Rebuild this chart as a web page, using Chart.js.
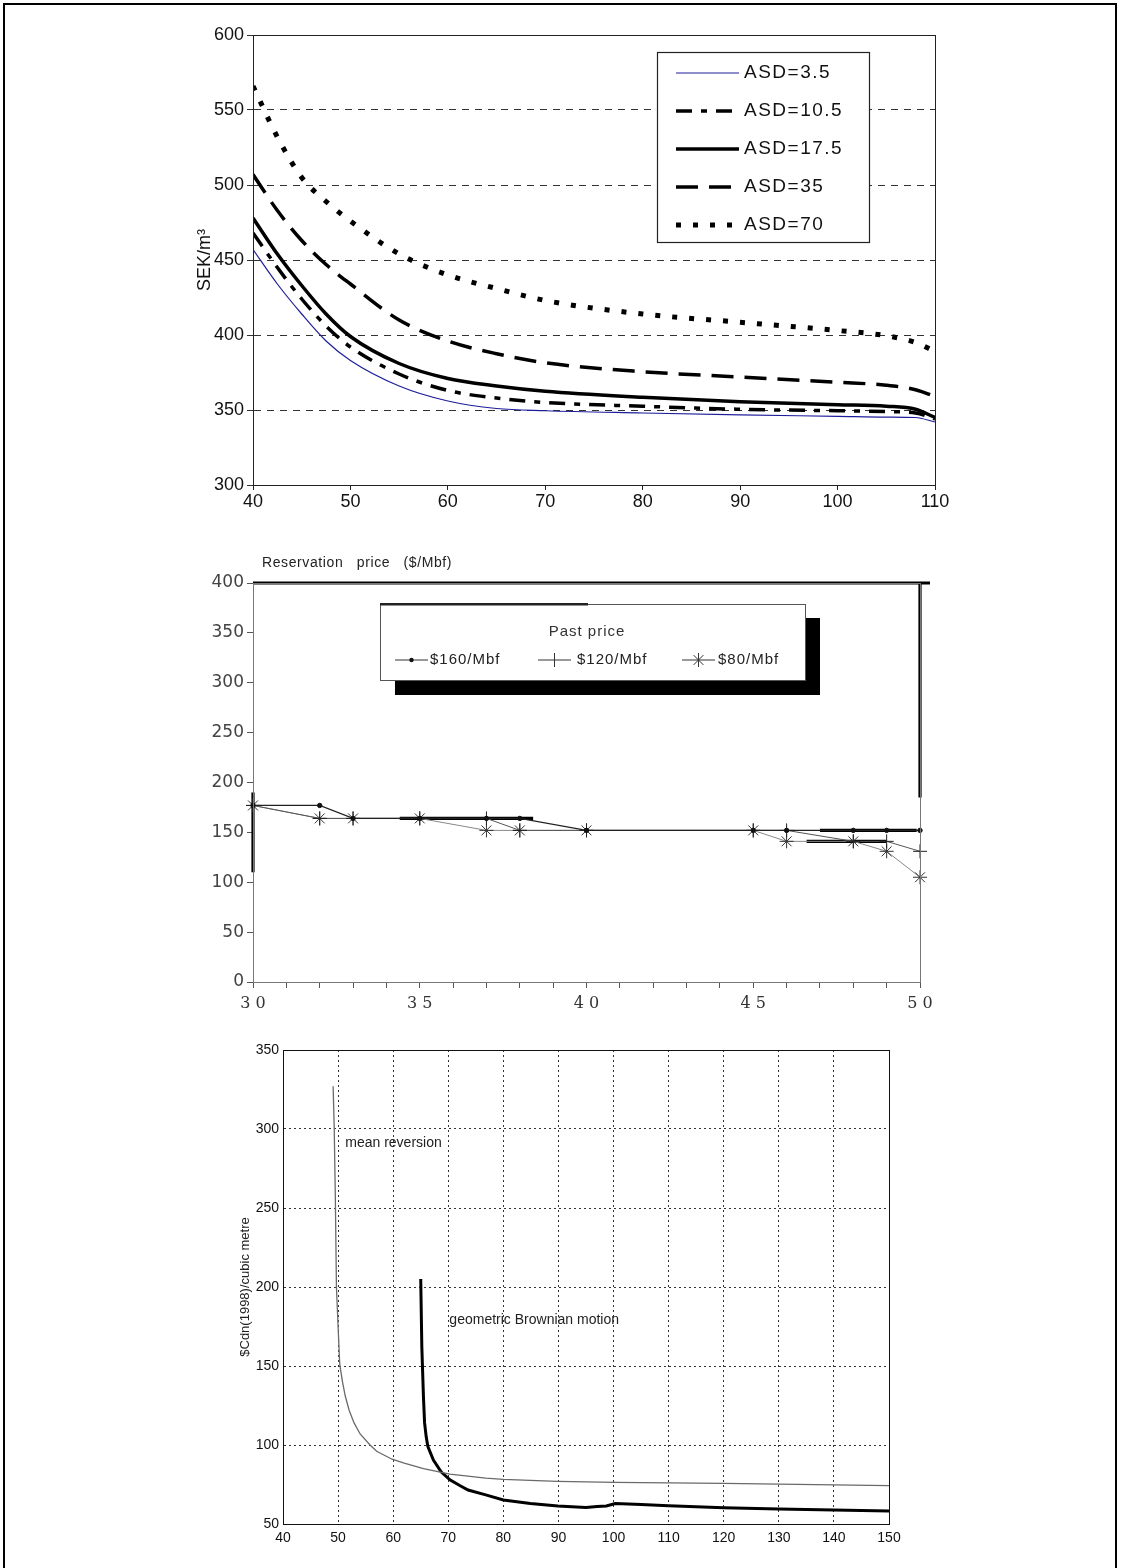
<!DOCTYPE html>
<html>
<head>
<meta charset="utf-8">
<script src="https://cdn.jsdelivr.net/npm/chart.js@4.4.0/dist/chart.umd.min.js"></script>
<style>
    html, body { margin: 0; background: #fff; }
    #page { position: relative; width: 1124px; height: 1568px; overflow: hidden; background: #fff; }
    #frame { position: absolute; left: 3px; top: 3px; width: 1114px; height: 1600px; border: 2px solid #000; box-sizing: border-box; }
    canvas { position: absolute; }
</style>
</head>
<body>
<div id="page">
    <div id="frame"></div>
    <canvas id="topChart" width="790" height="500" style="left:190px;top:20px"></canvas>
    <canvas id="midChart" width="750" height="480" style="left:200px;top:540px"></canvas>
    <canvas id="lowChart" width="690" height="530" style="left:236px;top:1035px"></canvas>
</div>
<script>
// ---- panel 1: SEK/m3 against price, one curve per ASD ----
const asdLabels = ['ASD=3.5', 'ASD=10.5', 'ASD=17.5', 'ASD=35', 'ASD=70'];
const topX = [40, 42.5, 45, 47.5, 50, 55, 60, 65, 70, 80, 90, 100, 105, 108, 110];
const asd3_5 = [457, 434, 414, 396, 383, 366, 356, 351, 349.5, 348, 346.7, 345.8, 345.3, 345, 342];
const asd10_5 = [468, 445, 424, 406, 392, 374, 363, 358, 355, 352.5, 350.5, 349.5, 349, 348, 344];
const asd17_5 = [478, 454, 433, 414, 399, 381, 371, 366, 362.5, 358.5, 355.5, 353.5, 352.5, 350.5, 345];
const asd35 = [507, 483, 463, 447, 434, 410, 396, 387.5, 381.5, 375.5, 372, 368.5, 366.5, 363.5, 359];
const asd70 = [566, 532, 505, 489, 476, 454, 440, 431, 423, 414, 408.5, 403, 399.5, 395, 389];
const topXTicks = [40, 50, 60, 70, 80, 90, 100, 110];
const topYTicks = [300, 350, 400, 450, 500, 550, 600];

// ---- panel 2: reservation price by past price ----
const pastLabels = ['$160/Mbf', '$120/Mbf', '$80/Mbf'];
const midX = [30, 32, 33, 35, 37, 38, 40, 45, 46, 48, 49, 50];
const past160 = [177, 177, 164, 164, 164, 164, 152, 152, 152, 152, 152, 152];
const past120 = [177, 164, 164, 164, 164, 152, 152, 152, 152, 141, 141, 131];
const past80 = [177, 164, 164, 164, 152, 152, 152, 152, 141, 141, 131, 105];
// heavy strokes in the scan: [x1, y1, x2, y2]
const midHeavy = [[30, 400, 50.3, 400], [30, 110, 30, 190], [50, 400, 50, 185],
                  [34.4, 164, 38.4, 164], [47, 152, 49.9, 152], [46.6, 141, 49, 141]];
const midXTicks = [30, 31, 32, 33, 34, 35, 36, 37, 38, 39, 40, 41, 42, 43, 44, 45, 46, 47, 48, 49, 50];
const midXLabels = [30, 35, 40, 45, 50];
const midYTicks = [0, 50, 100, 150, 200, 250, 300, 350, 400];

// ---- panel 3: $Cdn(1998)/cubic metre ----
const meanRevX = [49.1, 49.3, 49.5, 49.7, 50, 50.3, 50.8, 51.3, 52, 52.9, 54, 55.8, 57, 59.8, 62, 65.5, 70.3, 76.8, 80, 89.8, 100.3, 110, 120, 130, 140, 150];
const meanRevY = [327, 300, 257, 200, 175, 151, 140, 131, 122, 114, 107, 100, 96, 91, 88.5, 85, 81.5, 79, 78.3, 77, 76.4, 76, 75.7, 75.3, 74.8, 74.3];
const gbmX = [65, 65.2, 65.5, 65.7, 66, 66.3, 67.3, 68.7, 70.3, 72, 73.6, 76.8, 80, 84.9, 89.9, 95, 97, 98.7, 100.3, 105, 110, 120, 130, 140, 150];
const gbmY = [205, 162, 130, 114, 105, 99, 90.5, 83, 78, 74.5, 71.5, 68.4, 65.2, 63, 61.4, 60.5, 61, 61.4, 63, 62.3, 61.6, 60.3, 59.5, 58.8, 58.2];
const lowXTicks = [40, 50, 60, 70, 80, 90, 100, 110, 120, 130, 140, 150];
const lowYTicks = [50, 100, 150, 200, 250, 300, 350];
const lowNotes = [{ text: 'mean reversion', x: 51.3, y: 291 }, { text: 'geometric Brownian motion', x: 70.2, y: 179 }];

Chart.defaults.font.family = '"Liberation Sans", Arial, sans-serif';
Chart.defaults.color = '#111';
Chart.defaults.animation = false;

const pts = (xs, ys) => xs.map((x, i) => ({ x: x, y: ys[i] }));
const fixTicks = list => s => { s.ticks = list.map(v => ({ value: v })); };

// box around the plot area
const frame = {
    id: 'frame',
    afterDatasetsDraw(chart, args, opts) {
        const a = chart.chartArea, ctx = chart.ctx;
        ctx.save();
        ctx.strokeStyle = opts.color || '#000';
        ctx.lineWidth = 1;
        ctx.strokeRect(Math.round(a.left) + 0.5, Math.round(a.top) + 0.5, Math.round(a.right - a.left), Math.round(a.bottom - a.top));
        ctx.restore();
    }
};

// ---------- chart 1 ----------
const topStyles = [
    { color: '#1e1e9a', width: 1.2, dash: [] },
    { color: '#000', width: 3.5, dash: [16, 9, 6, 9] },
    { color: '#000', width: 3.5, dash: [] },
    { color: '#000', width: 3.5, dash: [22, 11] },
    { color: '#000', width: 5, dash: [5, 12] }
];
const topSeries = [asd3_5, asd10_5, asd17_5, asd35, asd70];

const topLegend = {
    id: 'topLegend',
    afterDraw(chart) {
        const ctx = chart.ctx;
        const bx = 467, by = 32, bw = 212, bh = 190;
        ctx.save();
        ctx.fillStyle = '#fff';
        ctx.fillRect(bx, by, bw, bh);
        ctx.strokeStyle = '#222';
        ctx.lineWidth = 1.2;
        ctx.strokeRect(bx + 0.5, by + 0.5, bw, bh);
        chart.data.datasets.forEach((ds, i) => {
            const y = by + 21 + i * 38;
            ctx.beginPath();
            ctx.setLineDash(ds.borderDash || []);
            ctx.lineWidth = ds.borderWidth;
            ctx.strokeStyle = ds.borderColor;
            ctx.moveTo(bx + 19, y);
            ctx.lineTo(bx + 82, y);
            ctx.stroke();
            ctx.setLineDash([]);
            ctx.fillStyle = '#111';
            ctx.font = '19px "Liberation Sans", Arial, sans-serif';
            ctx.letterSpacing = '1.5px';
            ctx.textBaseline = 'middle';
            ctx.fillText(ds.label, bx + 87, y);
        });
        ctx.restore();
    }
};

new Chart(document.getElementById('topChart'), {
    type: 'line',
    data: {
        datasets: topSeries.map((s, i) => ({
            label: asdLabels[i],
            data: pts(topX, s),
            borderColor: topStyles[i].color,
            borderWidth: topStyles[i].width,
            borderDash: topStyles[i].dash,
            cubicInterpolationMode: 'monotone',
            pointRadius: 0,
            fill: false
        }))
    },
    options: {
        responsive: false,
        layout: { padding: { left: 0, right: 45, top: 15, bottom: 0 } },
        plugins: { legend: { display: false }, tooltip: { enabled: false }, frame: { color: '#222' } },
        scales: {
            x: {
                type: 'linear', min: 40, max: 110,
                afterBuildTicks: fixTicks(topXTicks),
                afterFit: s => { s.height = 35; },
                ticks: { font: { size: 18 }, color: '#111', padding: 1 },
                grid: { drawOnChartArea: false, tickLength: 5, color: '#222' },
                border: { color: '#222' }
            },
            y: {
                min: 300, max: 600,
                afterBuildTicks: fixTicks(topYTicks),
                afterFit: s => { s.width = 63; },
                ticks: { font: { size: 18 }, color: '#111', padding: 3 },
                grid: { color: '#333', tickLength: 6, lineWidth: 1 },
                border: { color: '#222', dash: [7, 6] },
                title: { display: true, text: 'SEK/m³', font: { size: 18 }, color: '#111', padding: { top: 4, bottom: 0 } }
            }
        }
    },
    plugins: [frame, topLegend]
});

// ---------- chart 2 ----------
const midLegend = {
    id: 'midLegend',
    afterDraw(chart) {
        const ctx = chart.ctx;
        const bx = 180, by = 64, bw = 425, bh = 76;
        ctx.save();
        ctx.fillStyle = '#000';
        ctx.fillRect(bx + 15, by + 14, bw, bh + 1);
        ctx.fillStyle = '#fff';
        ctx.fillRect(bx, by, bw, bh);
        ctx.strokeStyle = '#555';
        ctx.lineWidth = 1;
        ctx.strokeRect(bx + 0.5, by + 0.5, bw, bh);
        ctx.fillStyle = '#222';
        ctx.fillRect(bx, by - 1, 208, 2.5);
        ctx.font = '15px "Liberation Sans", Arial, sans-serif';
        ctx.letterSpacing = '1px';
        ctx.textBaseline = 'middle';
        ctx.textAlign = 'center';
        ctx.fillStyle = '#333';
        ctx.fillText('Past price', bx + 207, by + 28);
        ctx.textAlign = 'left';
        const items = [{ x: 15, tx: 50 }, { x: 158, tx: 197 }, { x: 302, tx: 338 }];
        chart.data.datasets.slice(0, 3).forEach((ds, i) => {
            const y = by + 56, x0 = bx + items[i].x, x1 = x0 + 33, xm = (x0 + x1) / 2;
            ctx.strokeStyle = '#333';
            ctx.lineWidth = 1;
            ctx.beginPath(); ctx.moveTo(x0, y); ctx.lineTo(x1, y); ctx.stroke();
            if (i === 0) {
                ctx.fillStyle = '#111';
                ctx.beginPath(); ctx.arc(xm, y, 2.2, 0, Math.PI * 2); ctx.fill();
            } else {
                const r = 7;
                ctx.beginPath(); ctx.moveTo(xm, y - r); ctx.lineTo(xm, y + r); ctx.stroke();
                if (i === 2) {
                    const d = r * 0.7;
                    ctx.beginPath();
                    ctx.moveTo(xm - d, y - d); ctx.lineTo(xm + d, y + d);
                    ctx.moveTo(xm + d, y - d); ctx.lineTo(xm - d, y + d);
                    ctx.stroke();
                }
            }
            ctx.fillStyle = '#222';
            ctx.fillText(ds.label, bx + items[i].tx, y);
        });
        // axis caption above the plot
        ctx.textAlign = 'left';
        ctx.font = '14px "Liberation Sans", Arial, sans-serif';
        ctx.letterSpacing = '0.6px';
        ctx.fillStyle = '#222';
        ctx.fillText('Reservation   price   ($/Mbf)', 62, 23);
        ctx.restore();
    }
};

const midMarkers = [
    { line: '#222', width: 1.2, style: 'circle', radius: 2.2, fill: '#111' },
    { line: '#555', width: 1, style: 'cross', radius: 7, fill: '#222' },
    { line: '#888', width: 1, style: 'star', radius: 7, fill: '#333' }
];
const midSeries = [past160, past120, past80];

new Chart(document.getElementById('midChart'), {
    type: 'line',
    data: {
        datasets: midSeries.map((s, i) => ({
            label: pastLabels[i],
            data: pts(midX, s),
            borderColor: midMarkers[i].line,
            borderWidth: midMarkers[i].width,
            pointStyle: midMarkers[i].style,
            pointRadius: midMarkers[i].radius,
            pointBorderColor: midMarkers[i].fill,
            pointBackgroundColor: midMarkers[i].fill,
            pointBorderWidth: 1,
            tension: 0,
            clip: false
        })).concat(midHeavy.map(h => ({
            label: 'heavy',
            data: [{ x: h[0], y: h[1] }, { x: h[2], y: h[3] }],
            borderColor: '#000',
            borderWidth: 3.2,
            pointRadius: 0,
            clip: false
        })))
    },
    options: {
        responsive: false,
        layout: { padding: { left: 0, right: 30, top: 43, bottom: 0 } },
        plugins: { legend: { display: false }, tooltip: { enabled: false }, frame: { color: '#777' } },
        scales: {
            x: {
                type: 'linear', min: 30, max: 50,
                afterBuildTicks: fixTicks(midXTicks),
                afterFit: s => { s.height = 38; },
                ticks: {
                    font: { family: '"DejaVu Serif", serif', size: 16 }, color: '#333', padding: 6,
                    autoSkip: false, maxRotation: 0,
                    callback: v => midXLabels.includes(v) ? String(v).split('').join(' ') : ''
                },
                grid: { drawOnChartArea: false, tickLength: 6, color: '#555' },
                border: { color: '#666' }
            },
            y: {
                min: 0, max: 400,
                afterBuildTicks: fixTicks(midYTicks),
                afterFit: s => { s.width = 53; },
                ticks: { font: { family: '"DejaVu Sans", sans-serif', size: 17 }, color: '#444', padding: 3 },
                grid: { drawOnChartArea: false, tickLength: 6, color: '#555' },
                border: { color: '#777' }
            }
        }
    },
    plugins: [frame, midLegend]
});

// ---------- chart 3 ----------
const lowNotesPlugin = {
    id: 'lowNotes',
    afterDraw(chart) {
        const ctx = chart.ctx, xs = chart.scales.x, ys = chart.scales.y;
        ctx.save();
        ctx.font = '14px "Liberation Sans", Arial, sans-serif';
        ctx.fillStyle = '#222';
        ctx.textBaseline = 'middle';
        lowNotes.forEach(n => ctx.fillText(n.text, xs.getPixelForValue(n.x), ys.getPixelForValue(n.y)));
        ctx.restore();
    }
};

new Chart(document.getElementById('lowChart'), {
    type: 'line',
    data: {
        datasets: [
            { label: 'mean reversion', data: pts(meanRevX, meanRevY), borderColor: '#6a6a6a', borderWidth: 1.3, pointRadius: 0, tension: 0 },
            { label: 'geometric Brownian motion', data: pts(gbmX, gbmY), borderColor: '#000', borderWidth: 3, pointRadius: 0, tension: 0 }
        ]
    },
    options: {
        responsive: false,
        layout: { padding: { left: 0, right: 37, top: 15, bottom: 0 } },
        plugins: { legend: { display: false }, tooltip: { enabled: false }, frame: { color: '#111' } },
        scales: {
            x: {
                type: 'linear', min: 40, max: 150,
                afterBuildTicks: fixTicks(lowXTicks),
                afterFit: s => { s.height = 41; },
                ticks: { font: { family: '"Liberation Sans Narrow", "Liberation Sans", Arial, sans-serif', size: 14 }, color: '#111', padding: 6, maxRotation: 0 },
                grid: { color: '#333', drawTicks: false },
                border: { color: '#111', dash: [2, 3] }
            },
            y: {
                min: 50, max: 350,
                afterBuildTicks: fixTicks(lowYTicks),
                afterFit: s => { s.width = 47; },
                ticks: { font: { family: '"Liberation Sans Narrow", "Liberation Sans", Arial, sans-serif', size: 14 }, color: '#111', padding: 4 },
                grid: { color: '#333', drawTicks: false },
                border: { color: '#111', dash: [2, 3] },
                title: { display: true, text: '$Cdn(1998)/cubic metre', font: { size: 13 }, color: '#222', padding: { top: 2, bottom: 0 } }
            }
        }
    },
    plugins: [frame, lowNotesPlugin]
});
</script>
</body>
</html>
